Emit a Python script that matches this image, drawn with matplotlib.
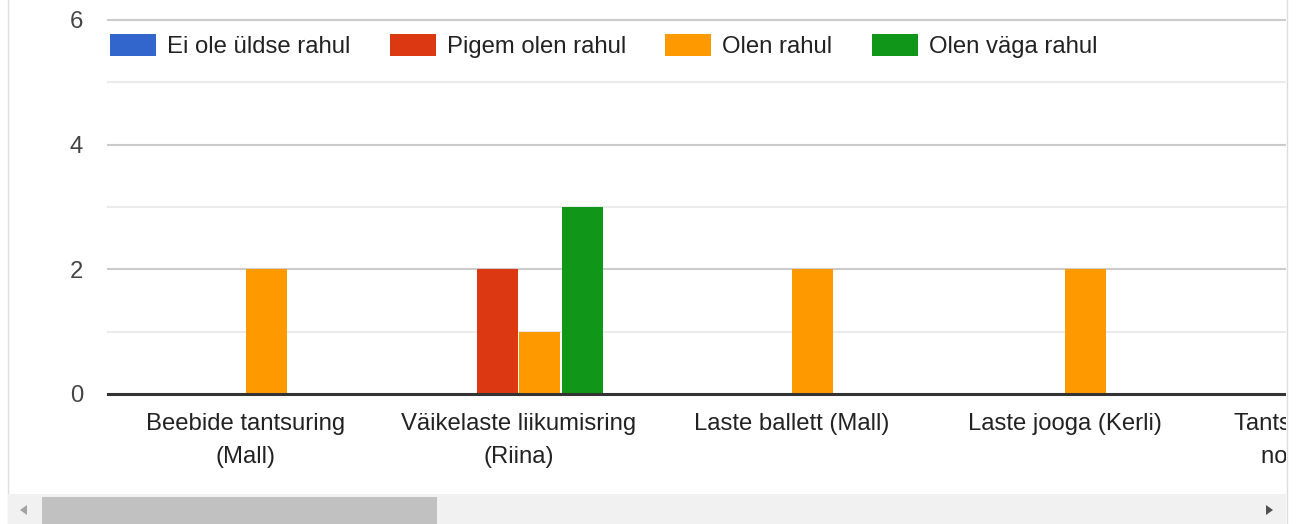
import matplotlib
matplotlib.use("Agg")
import matplotlib.pyplot as plt
from matplotlib.patches import Rectangle, Polygon
import numpy as np

plt.rcParams['font.family'] = ['Liberation Sans', 'DejaVu Sans']

categories = ["Beebide tantsuring\n(Mall)", "Väikelaste liikumisring\n(Riina)",
              "Laste ballett (Mall)", "Laste jooga (Kerli)",
              "Tantsuline liikumine\nnoortele (Mall)"]
series_names = ["Ei ole üldse rahul", "Pigem olen rahul", "Olen rahul", "Olen väga rahul"]
colors = ["#3366cc", "#dc3912", "#ff9900", "#109618"]
ei_ole = [0, 0, 0, 0, 0]
pigem = [0, 2, 0, 0, 0]
olen = [2, 1, 2, 2, 0]
vaga = [0, 3, 0, 0, 0]
series = [ei_ole, pigem, olen, vaga]
yticks = [0, 2, 4, 6]

W, H = 1300, 524
FS = 17.2
fig = plt.figure(figsize=(W / 100, H / 100), dpi=100)

left_px, right_px = 108, 1286
top_px, base_px = 20, 394
unit = 273.0
x0_px = 245.5
xlim_left = -(x0_px - left_px) / unit
xlim_right = 4.6
ax_right_px = x0_px + xlim_right * unit
ax = fig.add_axes([left_px / W, (H - base_px) / H, (ax_right_px - left_px) / W,
                   (base_px - top_px) / H])
ax.set_xlim(xlim_left, xlim_right)
ax.set_ylim(0, 6)

step = 42.5 / unit
bw = 41.3 / unit
x = np.arange(len(categories))
for i, (vals, c, name) in enumerate(zip(series, colors, series_names)):
    ax.bar(x + (i - 1.5) * step, vals, width=bw, color=c, label=name, zorder=3)

for v in range(1, 7):
    col = "#cccccc" if v % 2 == 0 else "#ebebeb"
    ax.axhline(v, color=col, lw=1.5, zorder=1, clip_on=False)
ax.axhline(0, color="#333333", lw=2.2, zorder=4, clip_on=False)

for s in ax.spines.values():
    s.set_visible(False)
ax.set_yticks(yticks)
ax.set_yticklabels([str(t) for t in yticks])
ax.tick_params(axis='y', length=0, pad=18, labelsize=FS, labelcolor="#444444")
ax.set_xticks(x)
ax.set_xticklabels(categories, linespacing=1.6)
ax.tick_params(axis='x', length=0, pad=14, labelsize=FS, labelcolor="#222222")

leg = ax.legend(loc='upper left', bbox_to_anchor=(0.0015, 0.962), ncol=4, frameon=False,
                fontsize=FS, handlelength=1.93, handleheight=1.05, handletextpad=0.46,
                columnspacing=1.64, borderpad=0, borderaxespad=0, labelcolor="#222222")

# white cover to right of container
fig.patches.append(Rectangle((right_px / W, 0), (W - right_px) / W, 1, transform=fig.transFigure,
                             facecolor="white", edgecolor="none", zorder=10))
# container borders
fig.lines.append(plt.Line2D([7.5 / W, 7.5 / W], [0, 1], transform=fig.transFigure,
                            color="#dddddd", lw=1, zorder=11))
fig.lines.append(plt.Line2D([(right_px + 0.5) / W] * 2, [0, 1], transform=fig.transFigure,
                            color="#dddddd", lw=1, zorder=11))
# scrollbar
fig.patches.append(Rectangle((8 / W, 0), (right_px - 8) / W, 30 / H, transform=fig.transFigure,
                             facecolor="#f1f1f1", edgecolor="none", zorder=11))
fig.patches.append(Rectangle((42 / W, 0), (437 - 42) / W, 27 / H, transform=fig.transFigure,
                             facecolor="#c1c1c1", edgecolor="none", zorder=12))
def tri(pts, col):
    fig.patches.append(Polygon([(px / W, (H - py) / H) for px, py in pts], closed=True,
                               transform=fig.transFigure, facecolor=col, edgecolor="none", zorder=12))
tri([(20, 510), (27, 505), (27, 515)], "#a3a3a3")
tri([(1273, 510), (1266, 505), (1266, 515)], "#505050")

fig.savefig("out.png", dpi=100)
